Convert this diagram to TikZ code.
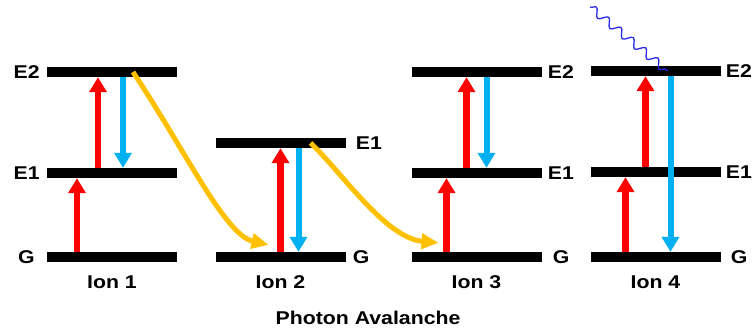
\documentclass[tikz,border=0pt]{standalone}
\usepackage{fontspec}
\setmainfont{Liberation Sans}[FakeStretch=1.15]
\usetikzlibrary{arrows.meta, positioning, decorations.pathmorphing}
\definecolor{pumpred}{HTML}{FF0000}
\definecolor{decayblue}{HTML}{00B0F0}
\definecolor{transfer}{HTML}{FFC000}
\definecolor{photon}{HTML}{2B2BEE}

\begin{document}
\begin{tikzpicture}[
  x=1pt, y=-1pt,
  bar/.style={fill=black, draw=none, minimum width=130pt, minimum height=10pt, inner sep=0pt},
  lvl/.style={font=\fontsize{18.5}{21}\selectfont\bfseries, inner sep=0pt},
  ionlabel/.style={font=\fontsize{18.5}{21}\selectfont\bfseries, inner sep=0pt},
  pump/.style={-{Triangle[length=15pt, width=17pt]}, line width=6.5pt, pumpred},
  decay/.style={-{Triangle[length=15pt, width=17pt]}, line width=6pt, decayblue},
  cross/.style={-{Triangle[length=17pt, width=15pt]}, line width=5pt, transfer},
]

\useasboundingbox (0,0) rectangle (753,329);

% =============================================
% Energy levels
% =============================================
% Ion 1
\node[bar] (ea1) at (112,72) {};
\node[bar] (eb1) at (112,173) {};
\node[bar] (g1)  at (112,257) {};
% Ion 2
\node[bar] (eb2) at (280.5,143) {};
\node[bar] (g2)  at (280.5,257) {};
% Ion 3
\node[bar] (ea3) at (476.5,72) {};
\node[bar] (eb3) at (476.5,173) {};
\node[bar] (g3)  at (476.5,257) {};
% Ion 4
\node[bar] (ea4) at (655.5,71) {};
\node[bar] (eb4) at (655.5,172) {};
\node[bar] (g4)  at (655.5,257) {};

% Level names
\node[lvl, left=7pt of ea1] {E2};
\node[lvl, left=7pt of eb1] {E1};
\node[lvl, left=12pt of g1] {G};
\node[lvl, right=10pt of eb2] {E1};
\node[lvl, right=7pt of g2] {G};
\node[lvl, right=6pt of ea3] {E2};
\node[lvl, right=6pt of eb3] {E1};
\node[lvl, right=11pt of g3] {G};
\node[lvl, right=5pt of ea4] {E2};
\node[lvl, right=5pt of eb4] {E1};
\node[lvl, right=10pt of g4] {G};

% Ion names
\node[ionlabel] (ion1) at ([yshift=-20pt]g1.south) {Ion 1};
\node[ionlabel] (ion2) at ([yshift=-20pt]g2.south) {Ion 2};
\node[ionlabel] (ion3) at ([yshift=-20pt]g3.south) {Ion 3};
\node[ionlabel] (ion4) at ([yshift=-20pt]g4.south) {Ion 4};

\node[ionlabel] (title) at (368,318) {Photon Avalanche};

% =============================================
% Ion 1
% =============================================
\draw[pump] ([xshift=-35pt]g1.north) -- ([xshift=-35pt]eb1.south);
\draw[pump] ([xshift=-14pt]eb1.north) -- ([xshift=-14pt]ea1.south);
\draw[decay] ([xshift=11pt]ea1.south) -- ([xshift=11pt]eb1.north);

% =============================================
% Ion 2
% =============================================
\draw[pump] (g2.north) -- (eb2.south);
\draw[decay] ([xshift=18pt]eb2.south) -- ([xshift=18pt]g2.north);

% =============================================
% Ion 3
% =============================================
\draw[pump] ([xshift=-30pt]g3.north) -- ([xshift=-30pt]eb3.south);
\draw[pump] ([xshift=-10pt]eb3.north) -- ([xshift=-10pt]ea3.south);
\draw[decay] ([xshift=10pt]ea3.south) -- ([xshift=10pt]eb3.north);

% =============================================
% Ion 4
% =============================================
\draw[pump] ([xshift=-30pt]g4.north) -- ([xshift=-30pt]eb4.south);
\draw[pump] ([xshift=-10pt]eb4.north) -- ([xshift=-10pt]ea4.south);
\draw[decay] ([xshift=15pt]ea4.south) -- ([xshift=15pt]g4.north);

% emitted photon
\coordinate (emit) at (590,7);
\draw[photon, line width=1.3pt, decorate,
  decoration={snake, segment length=16pt, amplitude=4pt}]
  (emit) -- ([xshift=12pt]ea4.center);

% =============================================
% Cross relaxation between ions
% =============================================
\draw[cross] ([xshift=21pt]ea1.center) .. controls (185,150) and (225,235) .. ([xshift=-12pt, yshift=7pt]g2.north);
\draw[cross] ([xshift=30pt]eb2.center) .. controls (340,170) and (385,238) .. ([xshift=-38pt, yshift=9pt]g3.north);

\end{tikzpicture}
\end{document}
